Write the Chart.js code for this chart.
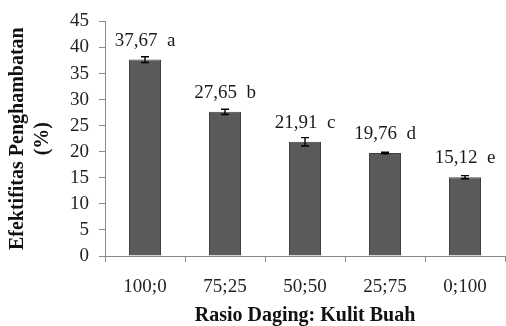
<!DOCTYPE html>
<html>
<head>
<meta charset="utf-8">
<script src="https://cdn.jsdelivr.net/npm/chart.js@4/dist/chart.umd.min.js"></script>
<style>
  html, body { margin: 0; padding: 0; background: #fff; }
  #wrap { width: 506px; height: 326px; }
</style>
</head>
<body>
<div id="wrap"><canvas id="c" width="506" height="326"></canvas></div>
<script>
// Ratio of fruit flesh to peel
const categories = ['100;0', '75;25', '50;50', '25;75', '0;100'];
// Inhibition effectiveness (%)
const values = [37.67, 27.65, 21.91, 19.76, 15.12];
// Standard deviation shown as error bars
const errors = [0.55, 0.5, 0.8, 0.15, 0.3];
// Significance letters
const letters = ['a', 'b', 'c', 'd', 'e'];
const yTicks = [0, 5, 10, 15, 20, 25, 30, 35, 40, 45];

const serif = "'Liberation Serif', 'Times New Roman', serif";
const axisGray = '#8a8a8a';

const fmt = v => v.toFixed(2).replace('.', ',');

const errorBarsAndLabels = {
  id: 'errorBarsAndLabels',
  afterDatasetsDraw(chart) {
    const meta = chart.getDatasetMeta(0);
    const y = chart.scales.y;
    const ctx = chart.ctx;
    ctx.save();
    meta.data.forEach((bar, i) => {
      const v = values[i], e = errors[i];
      const yHi = y.getPixelForValue(v + e);
      const yLo = y.getPixelForValue(v - e);
      const x = bar.x;
      ctx.strokeStyle = '#000';
      ctx.lineWidth = 1.4;
      ctx.beginPath();
      ctx.moveTo(x, yHi); ctx.lineTo(x, yLo);
      ctx.moveTo(x - 4, yHi); ctx.lineTo(x + 4, yHi);
      ctx.moveTo(x - 4, yLo); ctx.lineTo(x + 4, yLo);
      ctx.stroke();
      ctx.fillStyle = '#1a1a1a';
      ctx.font = '19px ' + serif;
      ctx.textAlign = 'center';
      ctx.textBaseline = 'middle';
      ctx.fillText(fmt(v) + '  ' + letters[i], x, y.getPixelForValue(v) - 19);
    });
    ctx.restore();
  }
};

new Chart(document.getElementById('c'), {
  type: 'bar',
  data: {
    labels: categories,
    datasets: [{
      data: values,
      backgroundColor: '#5a5a5a',
      borderColor: '#404040',
      borderWidth: 1,
      barPercentage: 0.4,
      categoryPercentage: 1.0
    }]
  },
  options: {
    responsive: false,
    animation: false,
    devicePixelRatio: 1,
    layout: { padding: { top: 15, right: 1, left: 0, bottom: 0 } },
    plugins: { legend: { display: false }, tooltip: { enabled: false } },
    scales: {
      x: {
        offset: true,
        grid: { display: true, drawOnChartArea: false, drawTicks: true, tickLength: 6, color: axisGray, offset: true },
        border: { display: true, color: axisGray, width: 1 },
        ticks: { color: '#222', font: { family: serif, size: 19 }, padding: 14 },
        title: {
          display: true,
          text: 'Rasio Daging: Kulit Buah',
          color: '#111',
          font: { family: serif, size: 20, weight: 'bold', lineHeight: 1.05 },
          padding: { top: 0, bottom: 0 }
        },
        afterFit(s) { s.height = 70; }
      },
      y: {
        min: 0,
        max: 45,
        afterBuildTicks(s) { s.ticks = yTicks.map(v => ({ value: v })); },
        grid: { display: true, drawOnChartArea: false, drawTicks: true, tickLength: 6, color: axisGray },
        border: { display: true, color: axisGray, width: 1 },
        ticks: { color: '#222', font: { family: serif, size: 19 }, padding: 10 },
        title: {
          display: true,
          text: ['Efektifitas Penghambatan', '(%)'],
          color: '#111',
          font: { family: serif, size: 20, weight: 'bold', lineHeight: 1.25 },
          padding: { top: 5, bottom: 0 }
        },
        afterFit(s) { s.width = 105; }
      }
    }
  },
  plugins: [errorBarsAndLabels]
});
</script>
</body>
</html>
